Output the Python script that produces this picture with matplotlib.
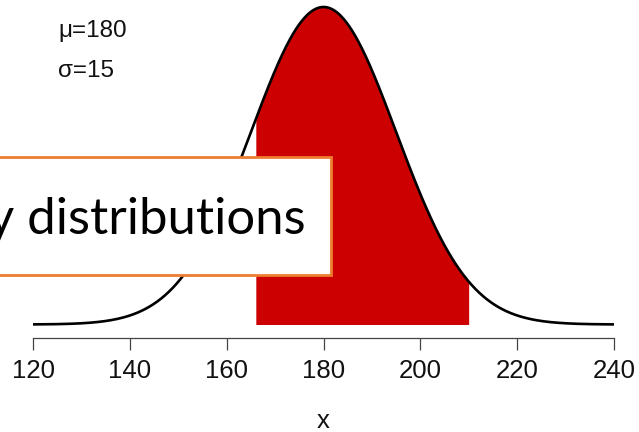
import numpy as np
import matplotlib
matplotlib.use("Agg")
import matplotlib.pyplot as plt
from matplotlib.patches import Rectangle

# normal distribution parameters and shaded interval
mu = 180
sigma = 15
shade_lo, shade_hi = 166, 210
x_ticks = [120, 140, 160, 180, 200, 220, 240]
x_range = (120, 240)
box_title = "y distributions"

plt.rcParams['font.family'] = ['Liberation Sans', 'DejaVu Sans']

W, H = 639, 432
fig = plt.figure(figsize=(W / 100, H / 100), dpi=100)

# axes placed in pixel terms: x 120..240 spans px 33..614, spine at px 337.5
left_px, right_px = 33.3, 613.8
spine_px = 337.5
ax = fig.add_axes([left_px / W, (H - spine_px) / H, (right_px - left_px) / W, spine_px / H])

def dnorm(x, m, s):
    return np.exp(-0.5 * ((x - m) / s) ** 2) / (s * np.sqrt(2 * np.pi))

peak = dnorm(mu, mu, sigma)
base_px, peak_px = 324.5, 7.0
scale = (base_px - peak_px) / peak
ax.set_xlim(*x_range)
ax.set_ylim(-(spine_px - base_px) / scale, peak + peak_px / scale)

xs = np.linspace(x_range[0], x_range[1], 600)
xf = np.linspace(shade_lo, shade_hi, 300)
ax.fill_between(xf, 0, dnorm(xf, mu, sigma), color='#cc0000', linewidth=0, zorder=1)
ax.plot(xs, dnorm(xs, mu, sigma), color='black', lw=1.9, zorder=2)

for s in ['top', 'right', 'left']:
    ax.spines[s].set_visible(False)
ax.spines['bottom'].set_color('#444444')
ax.spines['bottom'].set_linewidth(0.9)
ax.set_yticks([])
ax.set_xticks(x_ticks)
ax.tick_params(axis='x', length=8.3, width=0.9, color='#444444', pad=7,
               labelsize=18.5, labelcolor='#111111')
ax.set_xlabel('x', fontsize=18.5, color='#111111', labelpad=19)

fig.text(58 / W, 1 - 31 / H, 'μ=180', fontsize=17.5, va='center', ha='left', color='#111111')
fig.text(58 / W, 1 - 71 / H, 'σ=15', fontsize=17.5, va='center', ha='left', color='#111111')

# title box overlaid on the chart
box = Rectangle((-20 / W, 1 - 274.5 / H), (331 + 20) / W, (274.5 - 157) / H,
                transform=fig.transFigure, facecolor='white', edgecolor='#ed7d31',
                linewidth=2.0, zorder=5)
fig.add_artist(box)
fig.text(306 / W, 1 - 234 / H, box_title, fontsize=36.6, family=['Lato', 'DejaVu Sans'],
         ha='right', va='baseline', color='black', zorder=6)

fig.savefig('out.png', dpi=100)
